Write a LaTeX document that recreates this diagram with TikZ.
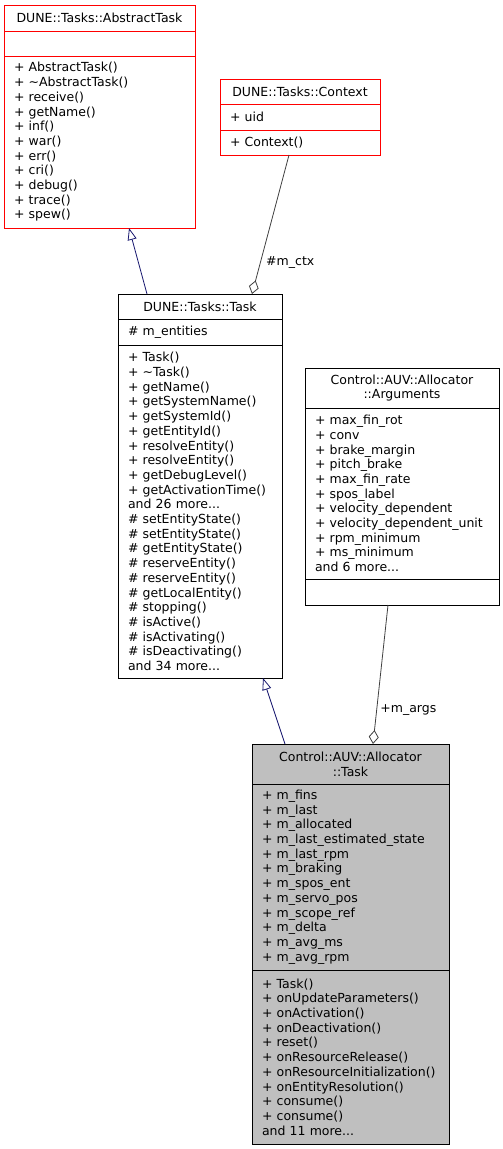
\documentclass[tikz,border=0pt]{standalone}
\usepackage{fontspec}
\setmainfont{DejaVu Sans}
\usetikzlibrary{arrows.meta,positioning}
\definecolor{edgeBlue}{RGB}{25,25,112}
\definecolor{edgeGray}{RGB}{64,64,64}
\definecolor{classGray}{RGB}{191,191,191}

\begin{document}
\begin{tikzpicture}[x=1pt, y=-1pt,
    every node/.style={font=\fontsize{12.5}{14.7}\selectfont},
    clsfield/.style={draw, anchor=north west, inner xsep=10pt, inner ysep=0pt, outer sep=0pt, align=left, line width=0.8pt},
    clshead/.style={clsfield, align=center},
    inherit/.style={-{Triangle[open, length=12pt, width=9pt]}, edgeBlue, line width=0.8pt},
    aggr/.style={-{Diamond[open, length=14pt, width=10pt]}, edgeGray, line width=0.8pt}]
    \useasboundingbox (0,0) rectangle (503,1149);

    % DUNE::Tasks::AbstractTask
    \node[clshead, draw=red, text width=171pt, minimum height=26pt] (abs head) at (4,5) {DUNE::Tasks::AbstractTask};
    \node[clsfield, draw=red, text width=171pt, minimum height=25pt] (abs attr) at (abs head.south west) {};
    \node[clsfield, draw=red, text width=171pt, minimum height=172pt] (abs ops) at (abs attr.south west) {+ AbstractTask()\\+ \textasciitilde AbstractTask()\\+ receive()\\+ getName()\\+ inf()\\+ war()\\+ err()\\+ cri()\\+ debug()\\+ trace()\\+ spew()};

    % DUNE::Tasks::Context
    \node[clshead, draw=red, text width=140pt, minimum height=25pt] (ctx head) at (220,79) {DUNE::Tasks::Context};
    \node[clsfield, draw=red, text width=140pt, minimum height=26pt] (ctx attr) at (ctx head.south west) {+ uid};
    \node[clsfield, draw=red, text width=140pt, minimum height=25pt] (ctx ops) at (ctx attr.south west) {+ Context()};

    % DUNE::Tasks::Task
    \node[clshead, text width=144pt, minimum height=25pt] (task head) at (118,294) {DUNE::Tasks::Task};
    \node[clsfield, text width=144pt, minimum height=26pt] (task attr) at (task head.south west) {\# m\_entities};
    \node[clsfield, text width=144pt, minimum height=333pt] (task ops) at (task attr.south west) {+ Task()\\+ \textasciitilde Task()\\+ getName()\\+ getSystemName()\\+ getSystemId()\\+ getEntityId()\\+ resolveEntity()\\+ resolveEntity()\\+ getDebugLevel()\\+ getActivationTime()\\and 26 more...\\\# setEntityState()\\\# setEntityState()\\\# getEntityState()\\\# reserveEntity()\\\# reserveEntity()\\\# getLocalEntity()\\\# stopping()\\\# isActive()\\\# isActivating()\\\# isDeactivating()\\and 34 more...};

    % Control::AUV::Allocator::Arguments
    \node[clshead, text width=174pt, minimum height=40pt] (args head) at (305,368) {Control::AUV::Allocator\\::Arguments};
    \node[clsfield, text width=174pt, minimum height=171pt] (args attr) at (args head.south west) {+ max\_fin\_rot\\+ conv\\+ brake\_margin\\+ pitch\_brake\\+ max\_fin\_rate\\+ spos\_label\\+ velocity\_dependent\\+ velocity\_dependent\_unit\\+ rpm\_minimum\\+ ms\_minimum\\and 6 more...};
    \node[clsfield, text width=174pt, minimum height=26pt] (args ops) at (args attr.south west) {};

    % Control::AUV::Allocator::Task
    \node[clshead, fill=classGray, text width=177pt, minimum height=40pt] (alloc head) at (252,744) {Control::AUV::Allocator\\::Task};
    \node[clsfield, fill=classGray, text width=177pt, minimum height=186pt] (alloc attr) at (alloc head.south west) {+ m\_fins\\+ m\_last\\+ m\_allocated\\+ m\_last\_estimated\_state\\+ m\_last\_rpm\\+ m\_braking\\+ m\_spos\_ent\\+ m\_servo\_pos\\+ m\_scope\_ref\\+ m\_delta\\+ m\_avg\_ms\\+ m\_avg\_rpm};
    \node[clsfield, fill=classGray, text width=177pt, minimum height=174pt] (alloc ops) at (alloc attr.south west) {+ Task()\\+ onUpdateParameters()\\+ onActivation()\\+ onDeactivation()\\+ reset()\\+ onResourceRelease()\\+ onResourceInitialization()\\+ onEntityResolution()\\+ consume()\\+ consume()\\and 11 more...};

    % edges
    \draw[inherit] ([xshift=-53pt]task head.north) -- ([xshift=29.5pt]abs ops.south);
    \draw[inherit] ([xshift=-65.5pt]alloc head.north) -- ([xshift=63pt]task ops.south);
    \draw[aggr] ([xshift=-11pt]ctx ops.south) -- node[pos=0.77, anchor=west, text=black, xshift=2pt] (ctx role) {\#m\_ctx} ([xshift=52pt]task head.north);
    \draw[aggr] ([xshift=-14pt]args ops.south) -- node[pos=0.755, anchor=west, text=black] (args role) {+m\_args} ([xshift=22.5pt]alloc head.north);
\end{tikzpicture}
\end{document}
